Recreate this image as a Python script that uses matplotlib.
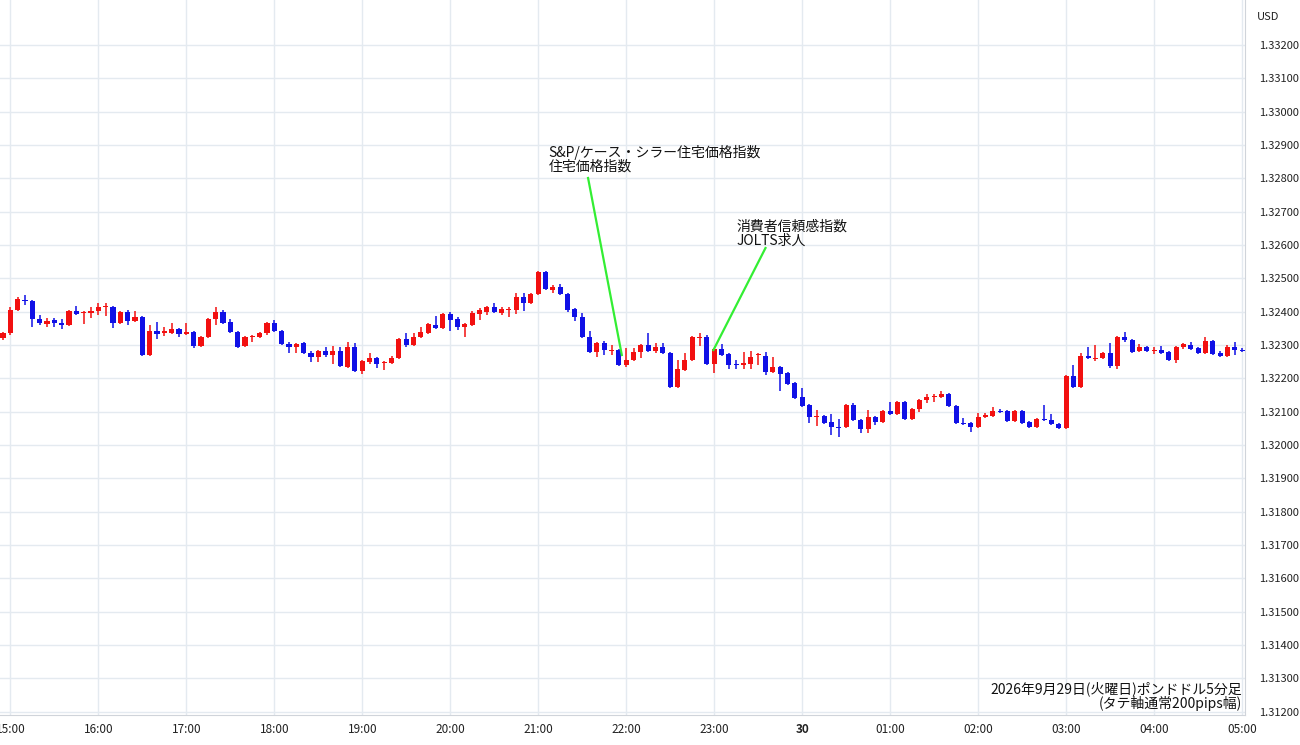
import matplotlib
matplotlib.use("Agg")
import matplotlib.pyplot as plt
import numpy as np

plt.rcParams['font.family'] = ['Noto Sans CJK JP', 'DejaVu Sans']

open_ = [1.32321,1.32336,1.32405,1.32435,1.32432,1.32378,1.32363,1.32375,1.32366,1.32360,
1.32402,1.32396,1.32396,1.32402,1.32414,1.32414,1.32366,1.32399,1.32372,1.32384,
1.32270,1.32342,1.32336,1.32336,1.32348,1.32333,1.32339,1.32297,1.32324,1.32378,
1.32399,1.32369,1.32339,1.32297,1.32324,1.32324,1.32336,1.32366,1.32342,1.32303,
1.32294,1.32306,1.32276,1.32264,1.32282,1.32270,1.32282,1.32234,1.32294,1.32222,
1.32249,1.32261,1.32246,1.32246,1.32261,1.32318,1.32300,1.32324,1.32336,1.32360,
1.32351,1.32393,1.32378,1.32354,1.32360,1.32393,1.32399,1.32414,1.32396,1.32405,
1.32405,1.32444,1.32426,1.32453,1.32519,1.32465,1.32474,1.32453,1.32408,1.32384,
1.32324,1.32279,1.32306,1.32282,1.32285,1.32240,1.32255,1.32279,1.32300,1.32282,
1.32294,1.32276,1.32174,1.32225,1.32255,1.32321,1.32324,1.32243,1.32288,1.32273,
1.32243,1.32240,1.32243,1.32270,1.32267,1.32219,1.32234,1.32216,1.32186,1.32144,
1.32120,1.32084,1.32087,1.32069,1.32054,1.32054,1.32120,1.32075,1.32048,1.32084,
1.32069,1.32102,1.32093,1.32129,1.32078,1.32108,1.32135,1.32144,1.32144,1.32153,
1.32117,1.32066,1.32066,1.32054,1.32084,1.32087,1.32102,1.32102,1.32072,1.32102,
1.32069,1.32054,1.32078,1.32075,1.32063,1.32051,1.32207,1.32174,1.32267,1.32258,
1.32261,1.32276,1.32237,1.32324,1.32315,1.32282,1.32294,1.32282,1.32285,1.32279,
1.32255,1.32294,1.32300,1.32291,1.32276,1.32312,1.32276,1.32267,1.32294,1.32285]
high = [1.32339,1.32414,1.32444,1.32450,1.32435,1.32390,1.32381,1.32381,1.32378,1.32405,
1.32417,1.32402,1.32414,1.32426,1.32426,1.32417,1.32402,1.32405,1.32402,1.32387,
1.32360,1.32369,1.32354,1.32366,1.32351,1.32366,1.32342,1.32327,1.32381,1.32414,
1.32405,1.32378,1.32342,1.32327,1.32330,1.32339,1.32369,1.32375,1.32345,1.32309,
1.32306,1.32309,1.32282,1.32285,1.32294,1.32297,1.32294,1.32309,1.32306,1.32255,
1.32276,1.32264,1.32252,1.32267,1.32321,1.32336,1.32336,1.32354,1.32366,1.32387,
1.32396,1.32399,1.32384,1.32366,1.32402,1.32411,1.32417,1.32426,1.32414,1.32414,
1.32456,1.32456,1.32456,1.32522,1.32522,1.32480,1.32483,1.32456,1.32411,1.32396,
1.32342,1.32309,1.32312,1.32300,1.32288,1.32291,1.32291,1.32303,1.32336,1.32306,
1.32306,1.32279,1.32255,1.32276,1.32327,1.32336,1.32330,1.32291,1.32303,1.32276,
1.32255,1.32279,1.32282,1.32276,1.32279,1.32264,1.32237,1.32219,1.32189,1.32171,
1.32123,1.32105,1.32090,1.32093,1.32078,1.32123,1.32126,1.32078,1.32105,1.32087,
1.32105,1.32129,1.32132,1.32132,1.32111,1.32138,1.32153,1.32153,1.32162,1.32156,
1.32120,1.32081,1.32069,1.32096,1.32096,1.32114,1.32108,1.32105,1.32105,1.32105,
1.32072,1.32081,1.32120,1.32093,1.32066,1.32210,1.32240,1.32276,1.32294,1.32300,
1.32279,1.32306,1.32327,1.32339,1.32318,1.32303,1.32297,1.32294,1.32297,1.32282,
1.32297,1.32306,1.32309,1.32294,1.32324,1.32315,1.32282,1.32300,1.32309,1.32291]
low = [1.32315,1.32330,1.32402,1.32420,1.32354,1.32360,1.32354,1.32354,1.32348,1.32357,
1.32390,1.32363,1.32381,1.32390,1.32387,1.32351,1.32363,1.32360,1.32369,1.32267,
1.32267,1.32318,1.32327,1.32333,1.32324,1.32330,1.32291,1.32294,1.32321,1.32360,
1.32363,1.32336,1.32291,1.32294,1.32309,1.32321,1.32330,1.32339,1.32300,1.32276,
1.32276,1.32273,1.32249,1.32249,1.32264,1.32243,1.32234,1.32231,1.32219,1.32213,
1.32243,1.32231,1.32225,1.32243,1.32258,1.32294,1.32297,1.32321,1.32333,1.32348,
1.32348,1.32342,1.32345,1.32324,1.32357,1.32375,1.32390,1.32396,1.32390,1.32384,
1.32393,1.32402,1.32423,1.32450,1.32465,1.32456,1.32450,1.32399,1.32372,1.32321,
1.32276,1.32264,1.32270,1.32270,1.32237,1.32234,1.32252,1.32261,1.32279,1.32276,
1.32273,1.32171,1.32171,1.32222,1.32252,1.32297,1.32240,1.32216,1.32267,1.32228,
1.32228,1.32228,1.32228,1.32240,1.32210,1.32216,1.32162,1.32180,1.32138,1.32114,
1.32066,1.32057,1.32063,1.32030,1.32024,1.32051,1.32072,1.32036,1.32036,1.32060,
1.32066,1.32090,1.32090,1.32075,1.32075,1.32099,1.32126,1.32129,1.32141,1.32114,
1.32063,1.32060,1.32039,1.32051,1.32081,1.32084,1.32096,1.32069,1.32069,1.32063,
1.32051,1.32051,1.32072,1.32060,1.32048,1.32048,1.32171,1.32171,1.32258,1.32252,
1.32258,1.32231,1.32228,1.32309,1.32276,1.32279,1.32279,1.32273,1.32273,1.32252,
1.32246,1.32288,1.32285,1.32273,1.32273,1.32270,1.32264,1.32264,1.32270,1.32279]
close = [1.32336,1.32405,1.32438,1.32432,1.32378,1.32366,1.32372,1.32366,1.32360,1.32402,
1.32393,1.32399,1.32402,1.32414,1.32417,1.32366,1.32399,1.32372,1.32384,1.32270,
1.32342,1.32333,1.32342,1.32348,1.32333,1.32339,1.32297,1.32324,1.32378,1.32399,
1.32366,1.32339,1.32294,1.32324,1.32327,1.32336,1.32366,1.32342,1.32303,1.32294,
1.32303,1.32276,1.32264,1.32282,1.32270,1.32282,1.32237,1.32294,1.32222,1.32252,
1.32261,1.32243,1.32249,1.32261,1.32318,1.32300,1.32324,1.32339,1.32363,1.32351,
1.32393,1.32375,1.32354,1.32363,1.32396,1.32405,1.32414,1.32399,1.32408,1.32408,
1.32444,1.32426,1.32453,1.32519,1.32468,1.32474,1.32453,1.32405,1.32384,1.32324,
1.32279,1.32306,1.32285,1.32285,1.32240,1.32255,1.32279,1.32300,1.32282,1.32294,
1.32276,1.32174,1.32228,1.32255,1.32324,1.32324,1.32243,1.32288,1.32270,1.32240,
1.32240,1.32246,1.32264,1.32273,1.32219,1.32234,1.32213,1.32183,1.32141,1.32117,
1.32084,1.32087,1.32066,1.32054,1.32051,1.32120,1.32075,1.32048,1.32084,1.32069,
1.32102,1.32093,1.32129,1.32078,1.32108,1.32135,1.32144,1.32147,1.32153,1.32117,
1.32066,1.32063,1.32054,1.32084,1.32090,1.32102,1.32099,1.32072,1.32102,1.32066,
1.32054,1.32078,1.32075,1.32063,1.32051,1.32207,1.32174,1.32267,1.32261,1.32261,
1.32276,1.32237,1.32324,1.32315,1.32279,1.32294,1.32282,1.32285,1.32276,1.32255,
1.32294,1.32303,1.32288,1.32276,1.32312,1.32273,1.32267,1.32294,1.32285,1.32282]

time_labels = ["15:00","16:00","17:00","18:00","19:00","20:00","21:00","22:00",
               "23:00","30","01:00","02:00","03:00","04:00","05:00"]
price_ticks = [1.3120,1.3130,1.3140,1.3150,1.3160,1.3170,1.3180,1.3190,1.3200,
               1.3210,1.3220,1.3230,1.3240,1.3250,1.3260,1.3270,1.3280,1.3290,
               1.3300,1.3310,1.3320]
event1 = "S&P/ケース・シラー住宅価格指数\n住宅価格指数"
event2 = "消費者信頼感指数\nJOLTS求人"
footer = "2026年9月29日(火曜日)ポンドドル5分足\n(タテ軸通常200pips幅)"

RED = '#f21010'
BLUE = '#1010e6'

fig = plt.figure(figsize=(13, 7.45), dpi=100)
ax = fig.add_axes([0, 30/745, 1245/1300, 715/745])

o = np.array(open_); h = np.array(high); l = np.array(low); c = np.array(close)
x = np.arange(len(o))
for i in x:
    col = RED if c[i] >= o[i] else BLUE
    ax.vlines(i, l[i], h[i], color=col, lw=1.1, zorder=3)
    bot = min(o[i], c[i]); hgt = max(abs(c[i]-o[i]), 0.000012)
    ax.bar(i, hgt, bottom=bot, width=0.7, color=col, zorder=4, linewidth=0)

ax.set_xlim(-0.41, 169.4)
ax.set_ylim(1.33335 - 0.00003*715, 1.33335)

ax.set_xticks([1 + 12*k for k in range(len(time_labels))])
ax.set_xticklabels(time_labels, fontsize=8.5, color='#222222')
for lbl, t in zip(ax.get_xticklabels(), time_labels):
    if t == "30":
        lbl.set_fontweight('bold')
ax.tick_params(axis='x', length=0, pad=6)
ax.yaxis.tick_right()
ax.set_yticks(price_ticks)
ax.set_yticklabels([f"{v:.5f}" for v in price_ticks], fontsize=8, color='#222222')
ax.tick_params(axis='y', length=0, pad=10)
ax.grid(True, color='#e4eaf0', lw=1)
ax.set_axisbelow(True)
for s in ['top', 'left']:
    ax.spines[s].set_visible(False)
ax.spines['right'].set_color('#d0d4da')
ax.spines['bottom'].set_color('#d0d4da')

fig.text(1268/1300, 1 - 17/745, "USD", fontsize=8, ha='center', va='center', color='#222222')

GREEN = '#33ee33'
ax.plot([79.8, 84.4], [1.32801, 1.32270], color=GREEN, lw=1.6, zorder=5)
ax.plot([104.0, 96.9], [1.32591, 1.32285], color=GREEN, lw=1.6, zorder=5)
ax.text(74.4, 1.32900, event1, fontsize=10, va='top', ha='left', linespacing=1.0, color='#111111')
ax.text(100.1, 1.32675, event2, fontsize=10, va='top', ha='left', linespacing=1.0, color='#111111')
ax.text(169.0, 1.31202, footer, fontsize=10, va='bottom', ha='right',
        linespacing=1.0, color='#111111')

fig.savefig("out.png", dpi=100)
